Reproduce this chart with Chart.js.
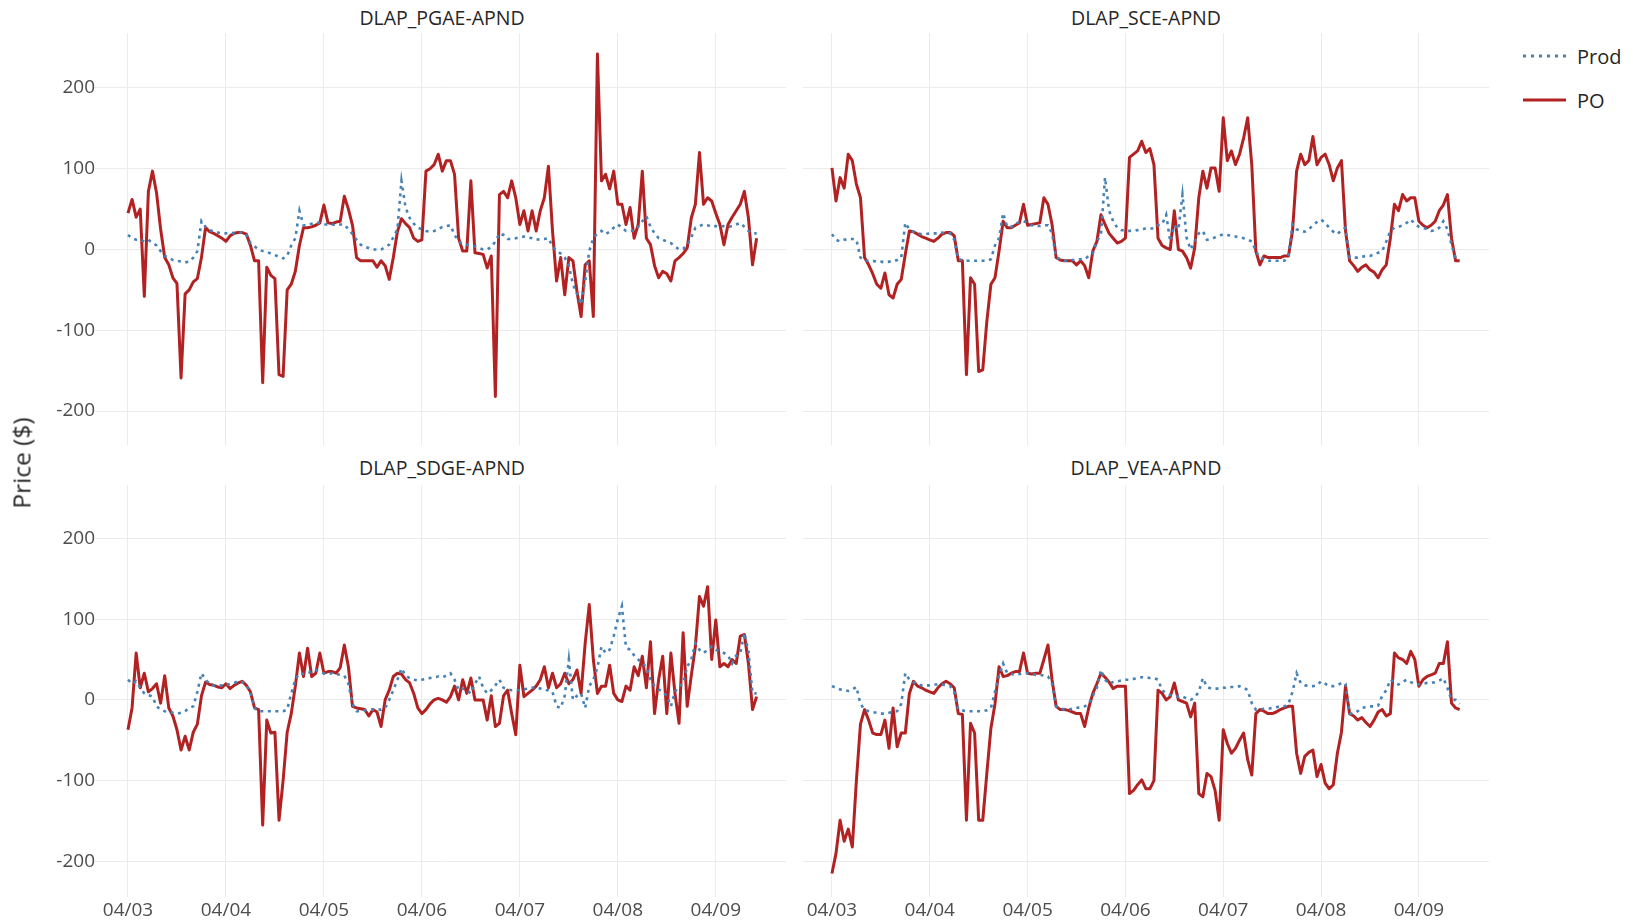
<!DOCTYPE html>
<html>
<head>
<meta charset="utf-8">
<script src="https://cdn.jsdelivr.net/npm/chart.js@4/dist/chart.umd.min.js"></script>
<style>
  html, body { margin: 0; padding: 0; background: #fff; }
  body { width: 1633px; height: 921px; position: relative; overflow: hidden; font-family: 'Open Sans', sans-serif; }
  canvas { position: absolute; }
  .ptitle { position: absolute; font-size: 19.5px; color: #262626; transform: translate(-50%, -50%); white-space: nowrap; }
  #ytitle { position: absolute; left: 21px; top: 463px; font-size: 24.5px; color: #262626; transform: translate(-50%, -50%) rotate(-90deg); white-space: nowrap; }
  .leg { position: absolute; left: 1523px; height: 24px; display: flex; align-items: center; font-size: 20px; color: #262626; transform: translateY(-50%); }
  .leg svg { margin-right: 11px; }
</style>
</head>
<body>
<canvas id="c0" width="786" height="412" style="left:0px;top:33px"></canvas>
<canvas id="c1" width="686" height="412" style="left:803px;top:33px"></canvas>
<canvas id="c2" width="786" height="436" style="left:0px;top:485px"></canvas>
<canvas id="c3" width="686" height="436" style="left:803px;top:485px"></canvas>
<div id="titles"></div>
<div id="ytitle">Price ($)</div>
<div id="legend"></div>
<script>
// ---- data (hourly, hour 0 = 04/03 00:00) ----
const panelNames = ["DLAP_PGAE-APND", "DLAP_SCE-APND", "DLAP_SDGE-APND", "DLAP_VEA-APND"];
const seriesNames = ["Prod", "PO"];
const xTickVals = [0, 24, 48, 72, 96, 120, 144];
const xTickLabels = ["04/03", "04/04", "04/05", "04/06", "04/07", "04/08", "04/09"];
const yTickVals = [-200, -100, 0, 100, 200];

const pgaeProd = [18,14,12,12,10,12,8,5,-2,-8,-10,-13,-14,-15,-16,-15,-10,-2,35,28,24,22,21,20,20,21,20,21,21,19,8,4,0,-2,-3,-5,-7,-9,-11,-8,5,14,48,30,30,32,33,33,31,31,31,30,31,31,25,19,12,6,3,2,0,0,0,3,6,15,25,85,52,39,32,27,25,23,22,23,25,28,29,30,18,10,7,6,5,4,2,0,0,3,10,20,18,13,13,14,15,16,15,14,12,13,13,14,4,-2,-5,-10,-20,-43,-55,-68,-39,-2,14,20,23,19,22,27,31,27,23,23,23,28,35,41,28,20,14,12,10,8,4,0,1,5,15,27,29,31,30,28,29,28,29,28,29,31,33,28,23,20,20];
const pgaePO = [45,62,40,50,-58,72,97,70,25,-10,-19,-35,-42,-159,-55,-50,-40,-36,-10,27,22,20,17,14,10,17,20,21,21,19,5,-14,-14,-165,-22,-32,-36,-155,-157,-50,-43,-27,5,27,27,28,30,33,55,33,32,34,35,66,50,30,-10,-14,-14,-14,-14,-22,-14,-20,-37,-10,22,38,32,27,14,10,12,97,100,105,118,97,110,110,93,14,-2,-2,85,-4,-5,-6,-23,-8,-182,68,72,64,85,64,31,48,23,48,23,48,64,103,23,-39,-10,-56,-10,-14,-52,-83,-19,-14,-83,242,85,93,75,97,56,56,31,52,14,31,97,14,6,-20,-35,-27,-30,-39,-14,-10,-5,2,39,56,120,56,64,60,45,31,6,31,40,48,56,72,39,-19,14];
const sceProd = [19,12,10,12,13,13,12,-10,-14,-14,-14,-15,-15,-16,-15,-15,-13,-10,33,25,22,20,19,19,20,20,20,21,20,20,12,-12,-13,-14,-14,-14,-14,-14,-14,-12,5,14,45,28,28,32,34,35,33,30,29,29,30,30,20,-10,-12,-14,-14,-13,-13,-12,-12,-8,-5,10,19,89,48,35,27,24,23,23,23,24,25,26,26,26,30,31,43,10,30,25,68,15,0,10,20,23,12,13,15,17,19,18,17,16,15,14,12,10,-2,-10,-12,-14,-14,-14,-14,-14,-8,31,25,23,22,25,30,34,37,33,27,22,19,24,27,-10,-10,-10,-9,-8,-8,-6,-4,-2,10,23,27,28,30,33,37,32,28,27,25,23,24,27,35,25,6,-10,-12];
const scePO = [101,60,89,76,118,110,81,64,-10,-19,-30,-43,-48,-29,-56,-60,-43,-37,-6,23,22,19,16,14,12,10,14,19,21,21,17,-14,-14,-155,-35,-43,-151,-149,-89,-43,-35,-2,35,27,27,30,33,56,30,31,32,33,64,56,31,-10,-13,-14,-14,-14,-19,-14,-20,-35,-2,10,43,31,20,14,8,10,14,114,118,122,134,120,125,105,14,5,2,0,48,0,-2,-10,-23,2,64,97,76,101,101,72,163,110,122,105,118,138,163,105,-2,-19,-8,-10,-10,-10,-10,-8,-8,23,97,118,105,110,140,105,114,118,105,85,101,110,23,-14,-20,-27,-22,-19,-25,-28,-35,-25,-19,14,56,48,68,60,64,64,35,30,27,30,35,48,55,68,14,-14,-14];
const sdgeProd = [25,20,23,15,8,6,4,-8,-12,-14,-15,-16,-17,-16,-14,-10,-8,10,33,25,20,18,17,18,18,20,21,23,22,18,10,-10,-14,-14,-14,-14,-14,-14,-14,-12,8,25,33,32,33,35,37,35,33,32,33,32,31,30,20,-5,-14,-14,-13,-12,-12,-12,-12,-10,0,12,25,39,30,27,25,24,25,26,27,28,29,28,30,33,25,12,14,12,8,20,29,15,8,12,18,25,15,13,12,12,12,13,14,15,16,14,12,12,10,-8,-10,5,50,0,5,8,-10,17,25,40,66,58,62,79,100,116,65,62,55,50,45,41,25,17,13,10,5,-8,10,17,20,41,50,70,62,58,62,66,62,60,58,55,45,55,58,83,60,8,8];
const sdgePO = [-37,-10,58,15,33,10,14,20,-4,30,-10,-20,-37,-62,-45,-62,-40,-30,5,22,19,18,16,15,20,14,18,21,23,18,10,-10,-12,-155,-25,-41,-40,-149,-100,-40,-17,17,58,29,64,29,33,58,33,35,35,33,40,68,41,-8,-10,-11,-12,-20,-12,-15,-33,0,12,29,33,32,25,21,8,-10,-17,-12,-5,0,2,0,-3,4,17,0,25,8,27,0,0,0,-25,5,-33,-29,5,12,-17,-43,43,4,8,12,17,25,41,15,33,15,20,33,20,25,37,8,70,118,50,8,17,17,43,8,0,-2,17,12,41,30,54,15,72,-17,25,54,-17,58,8,-29,83,-8,30,66,128,116,140,50,99,41,45,41,50,45,79,81,45,-12,4];
const veaProd = [17,15,13,12,11,13,16,-5,-12,-14,-15,-16,-17,-17,-16,-15,-14,-5,33,25,22,19,18,18,18,19,19,19,18,17,10,-12,-13,-14,-14,-14,-14,-14,-13,-10,10,30,45,33,32,31,32,33,33,32,31,31,30,29,20,-8,-10,-12,-12,-11,-10,-9,-8,-5,5,15,37,25,20,22,23,24,25,25,26,27,28,28,27,27,25,12,8,6,5,4,4,2,0,3,10,27,16,14,14,14,15,15,16,16,17,15,12,-4,-12,-12,-11,-11,-10,-9,-8,-8,-5,10,33,21,18,17,17,18,23,20,17,17,18,21,20,-17,-17,-14,-10,-9,-8,-8,-7,5,12,25,22,19,22,25,22,20,19,20,21,21,22,24,27,15,0,0,-5];
const veaPO = [-215,-190,-149,-175,-160,-182,-100,-30,-12,-25,-41,-43,-43,-25,-60,-10,-58,-41,-41,8,23,17,15,12,10,8,15,20,23,20,15,-17,-18,-149,-29,-41,-149,-149,-91,-35,-5,41,29,30,33,35,35,58,33,32,33,33,50,68,25,-8,-12,-12,-13,-15,-17,-17,-33,-10,8,20,33,28,22,14,17,17,17,-116,-112,-105,-99,-110,-110,-100,12,8,0,4,21,0,-2,-4,-21,-4,-116,-120,-91,-95,-112,-149,-37,-54,-66,-60,-50,-41,-74,-93,-17,-12,-14,-17,-17,-15,-12,-10,-8,-8,-66,-91,-70,-65,-62,-95,-80,-103,-110,-105,-66,-40,17,-17,-20,-25,-22,-28,-33,-25,-15,-12,-20,-17,58,52,50,45,60,50,17,25,29,31,33,45,45,72,-4,-10,-12];

const prodSeries = [pgaeProd, sceProd, sdgeProd, veaProd];
const poSeries = [pgaePO, scePO, sdgePO, veaPO];

// ---- styling ----
const PROD_COLOR = '#4682B4';
const PO_COLOR = '#B22222';
const GRID = '#ebebeb';
const TICK_TEXT = '#4d4d4d';
Chart.defaults.font.family = "'Open Sans', sans-serif";

function toXY(vals) { return vals.map((v, i) => ({ x: i, y: v })); }

function makePanel(idx, showX, showY, yMin, yMax) {
  const ctx = document.getElementById('c' + idx);
  return new Chart(ctx, {
    type: 'line',
    data: {
      datasets: [
        { label: seriesNames[0], data: toXY(prodSeries[idx]), borderColor: PROD_COLOR, borderWidth: 2.6,
          borderDash: [3, 4.5], pointRadius: 0, tension: 0, fill: false },
        { label: seriesNames[1], data: toXY(poSeries[idx]), borderColor: PO_COLOR, borderWidth: 3,
          pointRadius: 0, tension: 0, fill: false, borderJoinStyle: 'round' }
      ]
    },
    options: {
      responsive: false, animation: false, devicePixelRatio: 1,
      layout: { padding: 0 },
      plugins: { legend: { display: false }, tooltip: { enabled: false }, title: { display: false } },
      scales: {
        x: {
          type: 'linear', min: -7.1, max: 161.2,
          afterBuildTicks: s => { s.ticks = xTickVals.map(v => ({ value: v })); },
          afterFit: s => { s.height = showX ? 24 : 0; s.paddingLeft = 0; s.paddingRight = 0; },
          ticks: { display: showX, autoSkip: false, maxRotation: 0, padding: 2,
                   color: TICK_TEXT, font: { size: 19 },
                   callback: (v, i) => xTickLabels[i] },
          grid: { color: GRID, lineWidth: 1, drawTicks: false },
          border: { display: false }
        },
        y: {
          min: yMin, max: yMax,
          afterBuildTicks: s => { s.ticks = yTickVals.map(v => ({ value: v })); },
          afterFit: s => { s.width = showY ? 99 : 0; s.paddingTop = 0; s.paddingBottom = 0; },
          ticks: { display: showY, padding: 0, color: TICK_TEXT, font: { size: 19 } },
          grid: { color: GRID, lineWidth: 1, drawTicks: showY, tickLength: 4 },
          border: { display: false }
        }
      }
    }
  });
}

makePanel(0, false, true, -242, 268);
makePanel(1, false, false, -242, 268);
makePanel(2, true, true, -244, 266);
makePanel(3, true, false, -244, 266);

// panel titles
const titlePos = [[442, 17], [1146, 17], [442, 467], [1146, 467]];
const tdiv = document.getElementById('titles');
panelNames.forEach((n, i) => {
  const d = document.createElement('div');
  d.className = 'ptitle';
  d.style.left = titlePos[i][0] + 'px';
  d.style.top = titlePos[i][1] + 'px';
  d.textContent = n;
  tdiv.appendChild(d);
});

// legend
const leg = document.getElementById('legend');
const legY = [56, 100];
seriesNames.forEach((n, i) => {
  const d = document.createElement('div');
  d.className = 'leg';
  d.style.top = legY[i] + 'px';
  const dash = i === 0 ? 'stroke-dasharray="3,5"' : '';
  const col = i === 0 ? PROD_COLOR : PO_COLOR;
  const w = i === 0 ? 2.8 : 3;
  d.innerHTML = '<svg width="43" height="6"><line x1="0" y1="3" x2="43" y2="3" stroke="' + col + '" stroke-width="' + w + '" ' + dash + '/></svg><span>' + n + '</span>';
  leg.appendChild(d);
});
</script>
</body>
</html>
